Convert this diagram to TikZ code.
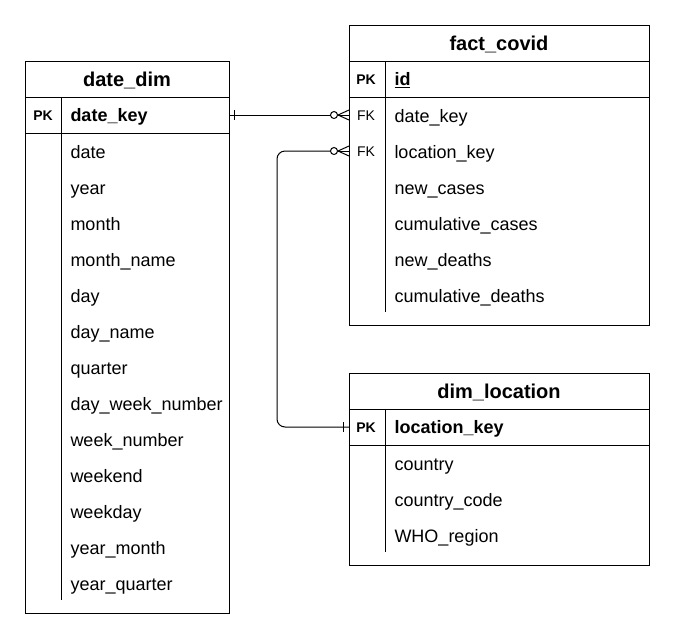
\documentclass[tikz,border=0pt]{standalone}
\usepackage{fontspec}
\setmainfont{Liberation Sans}
\begin{document}
\begin{tikzpicture}[x=1pt,y=-1pt,line width=1pt,
  tablebox/.style={draw,line width=1pt,anchor=north west,inner sep=0pt},
  rowbox/.style={inner sep=0pt,minimum height=36pt,anchor=west},
  hdr/.style={font=\fontsize{20}{24}\selectfont\bfseries,anchor=base,inner sep=0pt},
  fld/.style={font=\fontsize{18}{22}\selectfont,anchor=base west,inner sep=0pt},
  fldb/.style={fld,font=\fontsize{18}{22}\selectfont\bfseries},
  keyb/.style={font=\fontsize{14}{16}\selectfont\bfseries,anchor=base,inner sep=0pt},
  keyn/.style={font=\fontsize{14}{16}\selectfont,anchor=base,inner sep=0pt},
  conn/.style={line width=1pt}]
\useasboundingbox (0,0) rectangle (675,638);

% ---------- date_dim ----------
\node[tablebox,minimum width=204pt,minimum height=552pt] (dd) at (25,61) {};
\draw (25,97) -- (229,97);
\draw (25,133) -- (229,133);
\draw (61,97) -- (61,600);
\node[hdr] (ddh) at (127,86) {date\_dim};
\node[keyb] (ddpk) at (43,120) {PK};
\node[fldb] (ddk) at (70,121.5) {date\_key};
\node[rowbox,minimum width=204pt] (ddkey) at (25,115) {};
\foreach \t [count=\i from 0] in {date,year,month,month\_name,day,day\_name,quarter,day\_week\_number,week\_number,weekend,weekday,year\_month,year\_quarter}
  \node[fld] (ddf\i) at (70,158.5+36*\i) {\t};

% ---------- fact_covid ----------
\node[tablebox,minimum width=300pt,minimum height=300pt] (fc) at (349,25) {};
\draw (349,61) -- (649,61);
\draw (349,97) -- (649,97);
\draw (385,61) -- (385,312);
\node[hdr] (fch) at (499,50.5) {fact\_covid};
\node[keyb] (fcpk) at (366,84) {PK};
\node[fldb] (fcid) at (394,85.5) {\underline{id}};
\node[keyn] (fcfk1) at (366,120) {FK};
\node[keyn] (fcfk2) at (366,156) {FK};
\node[rowbox,minimum width=300pt] (fcdate) at (349,115) {};
\node[rowbox,minimum width=300pt] (fcloc) at (349,151) {};
\foreach \t [count=\i from 0] in {date\_key,location\_key,new\_cases,cumulative\_cases,new\_deaths,cumulative\_deaths}
  \node[fld] (fcf\i) at (394,122.5+36*\i) {\t};

% ---------- dim_location ----------
\node[tablebox,minimum width=300pt,minimum height=192pt] (dl) at (349,373) {};
\draw (349,409) -- (649,409);
\draw (349,445) -- (649,445);
\draw (385,409) -- (385,552);
\node[hdr] (dlh) at (499,398.5) {dim\_location};
\node[keyb] (dlpk) at (366,432) {PK};
\node[fldb] (dlk) at (394,433.5) {location\_key};
\node[rowbox,minimum width=300pt] (dlkey) at (349,427) {};
\foreach \t [count=\i from 0] in {country,country\_code,WHO\_region}
  \node[fld] (dlf\i) at (394,470.5+36*\i) {\t};

% ---------- connectors ----------
% date_dim.date_key -> fact_covid.date_key
\draw[conn] (ddkey.east) -- ([xshift=-18.5pt]fcdate.west);
\draw[conn] ([xshift=4pt,yshift=5pt]ddkey.east) -- ([xshift=4pt,yshift=-5pt]ddkey.east);
\draw[conn] ([xshift=-15pt]fcdate.west) circle[radius=3.5pt];
\draw[conn] ([xshift=-11.5pt]fcdate.west) -- (fcdate.west);
\draw[conn] ([yshift=5pt]fcdate.west) -- ([xshift=-11pt]fcdate.west) -- ([yshift=-5pt]fcdate.west);

% dim_location.location_key -> fact_covid.location_key
\draw[conn,rounded corners=8pt] (dlkey.west) -- ++(-72,0) |- ([xshift=-18.5pt]fcloc.west);
\draw[conn] ([xshift=-6pt,yshift=5pt]dlkey.west) -- ([xshift=-6pt,yshift=-5pt]dlkey.west);
\draw[conn] ([xshift=-15pt]fcloc.west) circle[radius=3.5pt];
\draw[conn] ([xshift=-11.5pt]fcloc.west) -- (fcloc.west);
\draw[conn] ([yshift=5pt]fcloc.west) -- ([xshift=-11pt]fcloc.west) -- ([yshift=-5pt]fcloc.west);
\end{tikzpicture}
\end{document}
